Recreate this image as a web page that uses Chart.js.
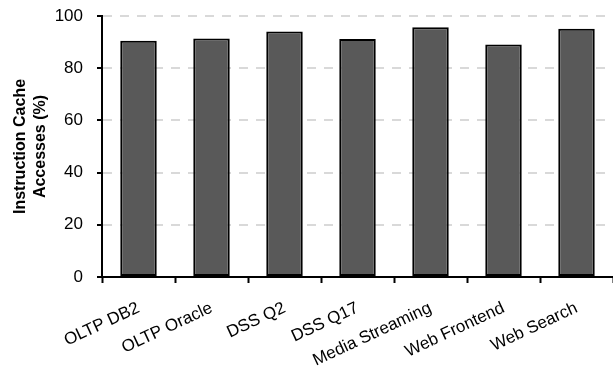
<!DOCTYPE html>
<html>
<head>
<meta charset="utf-8">
<script src="https://cdn.jsdelivr.net/npm/chart.js@4"></script>
<style>
  html, body { margin: 0; padding: 0; background: #fff; }
  #wrap { width: 613px; height: 375px; position: relative; }
</style>
</head>
<body>
<div id="wrap"><canvas id="cacheChart"></canvas></div>
<script>
  // Instruction cache accesses per workload (%)
  const WORKLOADS = ['OLTP DB2', 'OLTP Oracle', 'DSS Q2', 'DSS Q17', 'Media Streaming', 'Web Frontend', 'Web Search'];
  const ACCESSES  = [90.5, 91.4, 94.1, 91.2, 95.7, 89.1, 95.1];
  const Y_TICKS   = [0, 20, 40, 60, 80, 100];

  const FONT = "'Liberation Sans', Arial, sans-serif";

  const ctx = document.getElementById('cacheChart').getContext('2d');
  new Chart(ctx, {
    type: 'bar',
    data: {
      labels: WORKLOADS,
      datasets: [{
        data: ACCESSES,
        backgroundColor: '#595959',
        borderColor: '#000',
        borderWidth: 2,
        borderSkipped: false,
        barPercentage: 0.5,
        categoryPercentage: 1.0,
      }],
    },
    options: {
      responsive: true,
      maintainAspectRatio: false,
      animation: false,
      layout: { padding: { top: 16, right: 0, bottom: 0, left: 0 } },
      plugins: {
        legend: { display: false },
        tooltip: { enabled: false },
      },
      scales: {
        x: {
          afterFit: s => { s.height = 98; },
          grid: {
            display: true,
            drawOnChartArea: false,
            tickLength: 6,
            tickWidth: 2,
            tickColor: '#000',
          },
          border: { display: true, color: '#000', width: 2 },
          ticks: {
            autoSkip: false,
            minRotation: 25,
            maxRotation: 25,
            padding: 15,
            color: '#000',
            font: { family: FONT, size: 17 },
          },
        },
        y: {
          min: 0,
          max: 100,
          // fixed axis width; tick padding shouldn't push the plot top down
          afterFit: s => { s.width = 102; s.paddingTop = 4; s.paddingBottom = 4; },
          afterBuildTicks: s => { s.ticks = Y_TICKS.map(v => ({ value: v })); },
          grid: {
            color: c => (c.tick && c.tick.value === 0) ? 'rgba(0,0,0,0)' : '#d9d9d9',
            lineWidth: 2,
            tickLength: 5,
            tickWidth: 2,
            tickColor: '#000',
          },
          border: { display: true, color: '#000', width: 2, dash: [9, 8] },
          ticks: {
            padding: 14,
            color: '#000',
            font: { family: FONT, size: 17 },
          },
          title: {
            display: true,
            text: ['Instruction Cache', 'Accesses (%)'],
            color: '#000',
            font: { family: FONT, size: 16, weight: 'bold', lineHeight: 1.25 },
            padding: { top: 11, bottom: 0 },
          },
        },
      },
    },
  });
</script>
</body>
</html>
